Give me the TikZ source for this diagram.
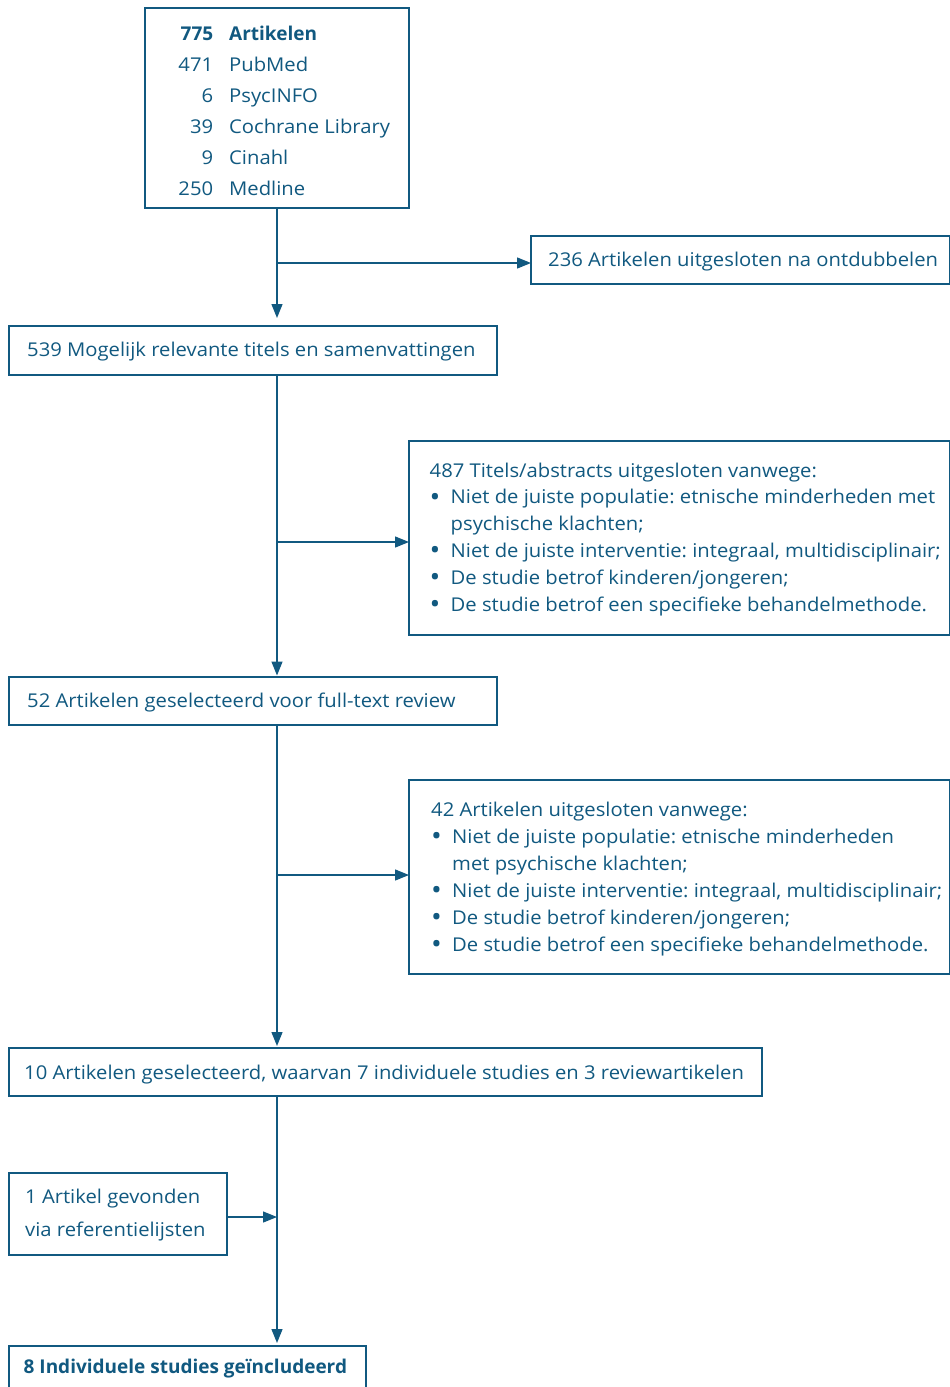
\documentclass[tikz,border=0pt]{standalone}
\usepackage{fontspec}
\setmainfont{Open Sans}[UprightFeatures={FakeStretch=1.065}]
\usetikzlibrary{arrows.meta}
\definecolor{main}{RGB}{17,89,128}
\frenchspacing
\newcommand{\bulitem}{\makebox[21pt][l]{\raisebox{-2.2pt}{\fontsize{27}{27}\selectfont •}}}
\newcommand{\numname}[2]{\makebox[35pt][r]{#1}\hspace{16pt}#2}
\begin{document}
\begin{tikzpicture}[x=1pt,y=-1pt,
  box/.style={draw=main,line width=1.3pt,rectangle,inner sep=0pt,outer sep=0pt,anchor=north west},
  txt/.style={anchor=base west,inner sep=0pt,text=main,font=\fontsize{19}{23}\selectfont},
  conn/.style={draw=main,line width=1.3pt},
  arr/.style={conn,-{Triangle[length=14pt,width=11pt]}}]
\useasboundingbox (0,0) rectangle (950,1387);
\fill[white] (0,0) rectangle (950,1387);

% boxes
\node[box,minimum width=264pt,minimum height=200pt] (b1) at (145,8) {};
\node[box,minimum width=418.5pt,minimum height=48pt] (b236) at (531,236) {};
\node[box,minimum width=488pt,minimum height=49pt] (b2) at (9,326) {};
\node[box,minimum width=540.5pt,minimum height=194pt] (b4) at (409,441) {};
\node[box,minimum width=488pt,minimum height=48pt] (b3) at (9,677) {};
\node[box,minimum width=540.5pt,minimum height=194pt] (b5) at (409,780) {};
\node[box,minimum width=753pt,minimum height=48pt] (b6) at (9,1048) {};
\node[box,minimum width=218pt,minimum height=82pt] (b7) at (9,1173) {};
\node[box,minimum width=357pt,minimum height=60pt] (b8) at (9,1346) {};

% texts
\node[txt] (t1) at (178,40) {\parbox[t]{300pt}{\fontsize{19}{31}\selectfont
  \numname{\textbf{775}}{\textbf{Artikelen}}\\
  \numname{471}{PubMed}\\
  \numname{6}{PsycINFO}\\
  \numname{39}{Cochrane Library}\\
  \numname{9}{Cinahl}\\
  \numname{250}{Medline}}};
\node[txt] (t236) at (548,266) {236 Artikelen uitgesloten na ontdubbelen};
\node[txt] (t2) at (27,356) {539 Mogelijk relevante titels en samenvattingen};
\node[txt] (t4) at (429.5,477) {\parbox[t]{600pt}{\fontsize{19}{26.8}\selectfont
  487 Titels/abstracts uitgesloten vanwege:\\
  \bulitem Niet de juiste populatie: etnische minderheden met\\
  \hspace*{21pt}psychische klachten;\\
  \bulitem Niet de juiste interventie: integraal, multidisciplinair;\\
  \bulitem De studie betrof kinderen/jongeren;\\
  \bulitem De studie betrof een specifieke behandelmethode.}};
\node[txt] (t3) at (27,707) {52 Artikelen geselecteerd voor full-text review};
\node[txt] (t5) at (431,816) {\parbox[t]{600pt}{\fontsize{19}{27}\selectfont
  42 Artikelen uitgesloten vanwege:\\
  \bulitem Niet de juiste populatie: etnische minderheden\\
  \hspace*{21pt}met psychische klachten;\\
  \bulitem Niet de juiste interventie: integraal, multidisciplinair;\\
  \bulitem De studie betrof kinderen/jongeren;\\
  \bulitem De studie betrof een specifieke behandelmethode.}};
\node[txt] (t6) at (24,1079) {10 Artikelen geselecteerd, waarvan 7 individuele studies en 3 reviewartikelen};
\node[txt] (t7) at (25,1203) {\parbox[t]{300pt}{\fontsize{19}{33.5}\selectfont
  1 Artikel gevonden\\via referentielijsten}};
\node[txt] (t8) at (23.5,1373) {\bfseries 8 Individuele studies geïncludeerd};

% connectors
\coordinate (j1) at (277,263);
\coordinate (j2) at (277,542);
\coordinate (j3) at (277,875);
\coordinate (j4) at (227,1217);
\draw[arr,shorten >=8pt] (b1.south) -- (b1.south |- b2.north);
\draw[arr] (j1) -- (j1 -| b236.west);
\draw[arr,shorten >=1.5pt] (b1.south |- b2.south) -- (b1.south |- b3.north);
\draw[arr] (j2) -- (j2 -| b4.west);
\draw[arr,shorten >=2pt] (b1.south |- b3.south) -- (b1.south |- b6.north);
\draw[arr] (j3) -- (j3 -| b5.west);
\draw[arr,shorten >=3pt] (b1.south |- b6.south) -- (b1.south |- b8.north);
\draw[arr] (j4) -- (j4 -| b1.south);
\end{tikzpicture}
\end{document}
